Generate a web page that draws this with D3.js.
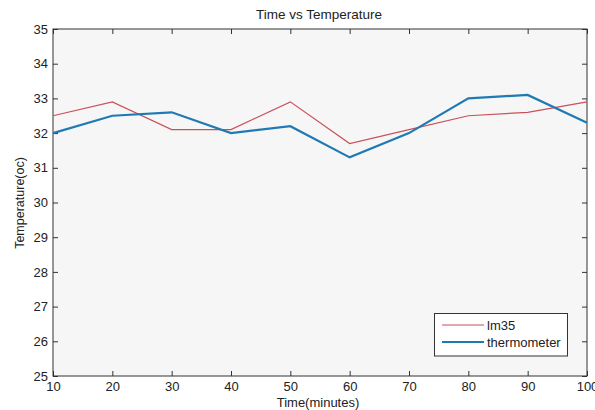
<!DOCTYPE html>
<html><head><meta charset="utf-8">
<script src="https://cdn.jsdelivr.net/npm/d3@7"></script>
<style>body{margin:0;background:#fff}svg{display:block}text{font-family:"Liberation Sans",Arial,sans-serif;fill:#222}</style>
</head><body><svg id="c" width="595" height="410"></svg>
<script>
const times = [10,20,30,40,50,60,70,80,90,100];
const lm35 = [32.5,32.9,32.1,32.1,32.9,31.7,32.1,32.5,32.6,32.9];
const thermometer = [32.0,32.5,32.6,32.0,32.2,31.3,32.0,33.0,33.1,32.3];
const xTicks = [10,20,30,40,50,60,70,80,90,100];
const yTicks = [25,26,27,28,29,30,31,32,33,34,35];
const seriesNames = ["lm35","thermometer"];

const svg = d3.select("#c");
const L=53,T=29,R=587,B=376;
const x = d3.scaleLinear().domain([10,100]).range([L,R]);
const y = d3.scaleLinear().domain([25,35]).range([B,T]);

svg.append("rect").attr("x",L).attr("y",T).attr("width",R-L).attr("height",B-T).attr("fill","#f6f6f6");

const gx = svg.append("g").attr("transform",`translate(0,${B})`)
  .call(d3.axisBottom(x).tickValues(xTicks).tickSizeInner(-5).tickSizeOuter(0).tickPadding(6));
const gxt = svg.append("g").attr("transform",`translate(0,${T})`)
  .call(d3.axisTop(x).tickValues(xTicks).tickSizeInner(-5).tickSizeOuter(0).tickFormat(""));
const gy = svg.append("g").attr("transform",`translate(${L},0)`)
  .call(d3.axisLeft(y).tickValues(yTicks).tickSizeInner(-5).tickSizeOuter(0).tickPadding(5));
const gyr = svg.append("g").attr("transform",`translate(${R},0)`)
  .call(d3.axisRight(y).tickValues(yTicks).tickSizeInner(-5).tickSizeOuter(0).tickFormat(""));
[gx,gxt,gy,gyr].forEach(g=>{
  g.select(".domain").remove();
  g.selectAll("line").attr("stroke","#333");
  g.selectAll("text").style("font-size","13px").style("font-family","'Liberation Sans',Arial,sans-serif").attr("fill","#222");
});
svg.append("rect").attr("x",L).attr("y",T).attr("width",R-L).attr("height",B-T).attr("fill","none").attr("stroke","#333").attr("stroke-width",1);

const line = d3.line().x((d,i)=>x(times[i])).y(d=>y(d));
svg.append("path").datum(lm35).attr("d",line).attr("fill","none").attr("stroke","#c9505c").attr("stroke-width",1.2);
svg.append("path").datum(thermometer).attr("d",line).attr("fill","none").attr("stroke","#1f7ab3").attr("stroke-width",2.2);

svg.append("text").attr("x",319).attr("y",19).attr("text-anchor","middle").style("font-size","13.5px").text("Time vs Temperature");
svg.append("text").attr("x",318).attr("y",407).attr("text-anchor","middle").style("font-size","13px").text("Time(minutes)");
svg.append("text").attr("transform","translate(24,203) rotate(-90)").attr("text-anchor","middle").style("font-size","12.5px").text("Temperature(oc)");

// legend
const lg = svg.append("g");
lg.append("rect").attr("x",434.5).attr("y",313.5).attr("width",133).attr("height",42.5).attr("fill","#fff").attr("stroke","#333");
const colors=["#c9505c","#1f7ab3"], widths=[1.2,2.2], ly=[325,342];
seriesNames.forEach((n,i)=>{
  lg.append("line").attr("x1",442).attr("x2",484).attr("y1",ly[i]).attr("y2",ly[i]).attr("stroke",colors[i]).attr("stroke-width",widths[i]);
  lg.append("text").attr("x",487).attr("y",ly[i]+4.5).style("font-size","13px").text(n);
});
</script></body></html>
